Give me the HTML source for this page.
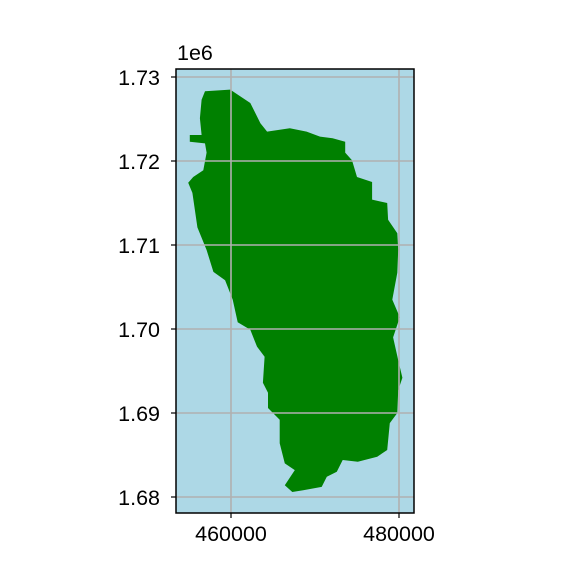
<!DOCTYPE html>
<html><head><meta charset="utf-8"><style>
html,body{margin:0;padding:0;background:#fff;}
svg{display:block;font-family:"Liberation Sans","DejaVu Sans",sans-serif;}
</style></head><body>
<svg id="chart" width="576" height="576" viewBox="0 0 576 576"></svg>
<script>
// island outline in data units (thousands of metres)
const outlineX = [456.9,459.9,462.3,463.5,464.3,467.0,469.0,470.6,472.1,473.6,473.6,474.4,475.0,476.8,476.8,478.6,478.7,479.8,479.9,479.8,
  479.2,480.1,479.3,479.9,480.4,479.9,479.8,478.9,478.6,477.4,475.1,473.3,472.6,471.4,470.8,468.6,467.3,466.4,467.6,466.4,465.8,465.8,464.4,464.4,463.8,464.0,463.1,462.3,460.8,460.2,459.3,
  457.9,457.1,456.0,455.4,454.9,455.5,456.7,457.1,456.9,455.1,455.1,456.5,456.3,456.5];
const outlineY = [1728.3,1728.5,1726.9,1724.5,1723.5,1723.9,1723.5,1722.9,1722.7,1722.3,1721.0,1720.1,1718.1,1717.5,1715.4,1715.0,1713.0,1711.4,1709.4,1706.7,
  1703.5,1701.4,1699.0,1696.3,1694.2,1692.7,1690.0,1688.8,1685.6,1684.8,1684.2,1684.4,1683.0,1682.4,1681.2,1680.8,1680.6,1681.4,1683.2,1684.0,1686.4,1689.2,1690.6,1692.4,1693.6,1696.7,1697.9,1699.9,1700.8,1703.5,1705.8,
  1706.8,1709.4,1712.1,1716.2,1717.4,1718.1,1718.9,1721.0,1722.1,1722.3,1723.1,1723.1,1725.1,1727.3];
const xTicks = [460000, 480000];
const xTickLabels = ["460000", "480000"];
const yTicks = [1.68, 1.69, 1.70, 1.71, 1.72, 1.73];
const yTickLabels = ["1.68", "1.69", "1.70", "1.71", "1.72", "1.73"];

const L=176,R=414,T=69,B=513;
const sx = v => 231 + (v-460000)*0.0084;
const sy = v => 77 + (1730000-v)*0.0084;
const NS="http://www.w3.org/2000/svg";
const svg=document.getElementById('chart');
function mk(tag,attrs,parent){const e=document.createElementNS(NS,tag);for(const k in attrs)e.setAttribute(k,attrs[k]);(parent||svg).appendChild(e);return e;}

const bg=mk('rect',{x:L,y:T,width:R-L,height:B-T,fill:'#add8e6'});



let d='';
outlineX.forEach((x,i)=>{d+=(i?'L':'M')+sx(x*1000).toFixed(1)+','+sy(outlineY[i]*1000).toFixed(1);});
const island=mk('path',{d:d+'Z',fill:'#008000'});



xTicks.forEach((v,i)=>{
  const g=mk('line',{x1:sx(v),x2:sx(v),y1:T,y2:B,stroke:'#b0b0b0','stroke-width':1.6});
  
  
  const t=mk('line',{x1:sx(v),x2:sx(v),y1:B,y2:B+5,stroke:'#000','stroke-width':1.2});
  
  
  const l=mk('text',{x:sx(v),y:B+28,'text-anchor':'middle','font-size':21.5});
  l.textContent=xTickLabels[i];
  
  
});
yTicks.forEach((v,i)=>{
  const y=sy(v*1e6);
  const g=mk('line',{x1:L,x2:R,y1:y,y2:y,stroke:'#b0b0b0','stroke-width':1.6});
  
  
  const t=mk('line',{x1:L-5,x2:L,y1:y,y2:y,stroke:'#000','stroke-width':1.2});
  
  
  const l=mk('text',{x:L-16,y:y+8,'text-anchor':'end','font-size':21.5});
  l.textContent=yTickLabels[i];
  
  
});
const frame=mk('rect',{x:L,y:T,width:R-L,height:B-T,fill:'none',stroke:'#000','stroke-width':1.5});


const off=mk('text',{x:177,y:60,'font-size':21.5});
off.textContent='1e6';


</script>
</body></html>
